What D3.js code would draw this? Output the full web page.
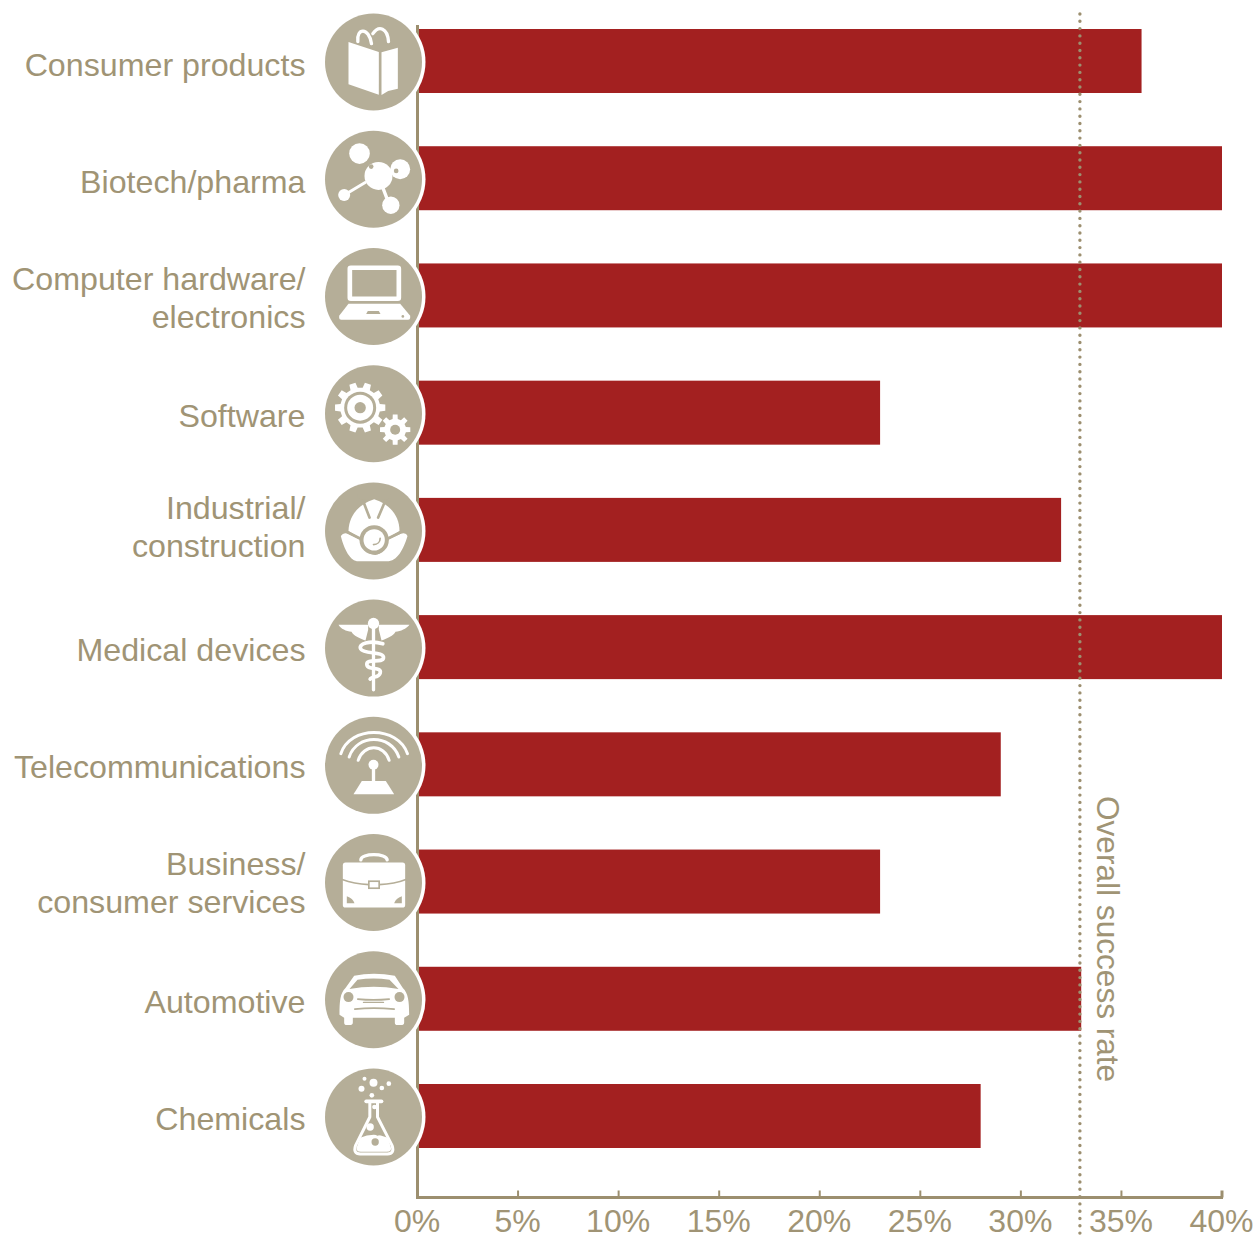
<!DOCTYPE html>
<html>
<head>
<meta charset="utf-8">
<script src="https://cdn.jsdelivr.net/npm/d3@7/dist/d3.min.js"></script>
<style>
  html, body { margin: 0; padding: 0; background: #fff; }
  svg { display: block; }
  text { font-family: "Liberation Sans", Arial, sans-serif; font-size: 32.2px; fill: #a09475; }
</style>
</head>
<body>
<svg id="chart" width="1256" height="1236"></svg>
<script>
// Success rate by industry
const categories = [
  ["Consumer products"],
  ["Biotech/pharma"],
  ["Computer hardware/", "electronics"],
  ["Software"],
  ["Industrial/", "construction"],
  ["Medical devices"],
  ["Telecommunications"],
  ["Business/", "consumer services"],
  ["Automotive"],
  ["Chemicals"]
];
const successRates = [36, 40, 40, 23, 32, 40, 29, 23, 33, 28];
const overallRate = 33;
const overallLabel = "Overall success rate";
const tickValues = [0, 5, 10, 15, 20, 25, 30, 35, 40];
const iconNames = ["book", "molecule", "laptop", "gears", "helmet", "caduceus", "antenna", "briefcase", "car", "flask"];

const RED = "#a32020", TAN = "#9c8f6f", DISC = "#b5ae98", WHITE = "#fff";

const svg = d3.select("#chart");
const x = d3.scaleLinear().domain([0, 40]).range([417.5, 1222]);
const y = d3.scaleBand().domain(d3.range(categories.length)).range([29, 1148]).paddingInner(0.454).paddingOuter(0);
const axisY = 1197.5;

// Bars
svg.append("g").selectAll("rect").data(successRates).join("rect")
  .attr("x", x(0))
  .attr("y", (d, i) => y(i))
  .attr("width", d => x(d) - x(0))
  .attr("height", y.bandwidth())
  .attr("fill", RED);

// Axis with inward ticks
const axis = svg.append("g").attr("transform", `translate(0,${axisY})`)
  .call(d3.axisBottom(x).tickValues(tickValues).tickFormat(d => d + "%").tickSize(-7).tickPadding(0).offset(0));
axis.select(".domain").attr("stroke", TAN).attr("stroke-width", 3).attr("d", `M${x(0)},0H${x(40) + 1}`);
axis.selectAll(".tick line").attr("stroke", TAN).attr("stroke-width", d => d === 40 ? 3 : 2);
axis.selectAll(".tick text").attr("x", -0.5).attr("y", 34.5).attr("dy", 0).style("font-size", "32px");
axis.attr("font-size", null).attr("font-family", null);

svg.append("line").attr("x1", x(0)).attr("x2", x(0)).attr("y1", 25).attr("y2", axisY + 1.5)
  .attr("stroke", TAN).attr("stroke-width", 3);

// Overall rate reference
const overallX = x(overallRate) - 1.3;
svg.append("line").attr("x1", overallX).attr("x2", overallX).attr("y1", 14).attr("y2", 1236)
  .attr("stroke", TAN).attr("stroke-width", 3.4).attr("stroke-linecap", "round").attr("stroke-dasharray", "0 7.3");
svg.append("text").attr("transform", `translate(${overallX + 17.5},796) rotate(90)`)
  .style("font-size", "31.6px").text(overallLabel);

// Category labels, with small per-row baseline corrections
const labelShift = [0, 0, 1, -1, -5, -1, -1, -1, -1, -1];
const labels = svg.append("g").selectAll("text").data(categories).join("text")
  .attr("text-anchor", "end")
  .attr("y", (d, i) => y(i) + y.bandwidth() / 2 + (d.length > 1 ? 13 : 15) + labelShift[i]);
labels.selectAll("tspan").data(d => d).join("tspan")
  .attr("x", 305.5)
  .attr("dy", (d, i, n) => n.length > 1 ? (i === 0 ? -19 : 38) : 0)
  .text(d => d);

// Pictogram helpers: shapes are written on a 3x grid around each disc's centre
const circle = (g, cx, cy, r, fill = WHITE) => g.append("circle").attr("cx", cx).attr("cy", cy).attr("r", r).attr("fill", fill);
const fillPath = (g, d, fill = WHITE) => g.append("path").attr("d", d).attr("fill", fill);
const strokePath = (g, d, w, stroke = WHITE) => g.append("path").attr("d", d).attr("fill", "none").attr("stroke", stroke)
  .attr("stroke-width", w).attr("stroke-linecap", "round").attr("stroke-linejoin", "round");

function gear(g, cx, cy, rOuter, rInner, teeth) {
  const pts = [];
  const step = 2 * Math.PI / teeth;
  for (let i = 0; i < teeth; i++) {
    const a = i * step;
    [[-0.3, rInner], [-0.2, rOuter], [0.2, rOuter], [0.3, rInner]].forEach(([k, r]) => {
      pts.push([cx + r * Math.cos(a + k * step), cy + r * Math.sin(a + k * step)]);
    });
  }
  fillPath(g, d3.line()(pts) + "Z");
}

const icons = {
  book: { at: [160, 185], draw(g) {
    fillPath(g, "M85,125L176,155V283L85,252Z");
    fillPath(g, "M184,156L233,142V265L204,272L184,284Z");
    strokePath(g, "M113,124C108,82 146,80 154,130", 10);
    strokePath(g, "M158,100C176,74 202,82 205,124", 10);
  }},
  molecule: { at: [160, 535], draw(g) {
    strokePath(g, "M85,575L135,545", 9);
    strokePath(g, "M188,560L205,605", 10);
    circle(g, 118, 458, 31);
    circle(g, 175, 525, 42);
    circle(g, 240, 505, 30);
    circle(g, 72, 582, 18);
    circle(g, 212, 613, 26);
    circle(g, 153, 497, 7, DISC);
    circle(g, 228, 510, 7, DISC);
  }},
  laptop: { at: [160, 168], draw(g) {
    g.append("rect").attr("x", 89).attr("y", 82).attr("width", 147).attr("height", 93).attr("rx", 3)
      .attr("fill", "none").attr("stroke", WHITE).attr("stroke-width", 14);
    fillPath(g, "M85,190H240L270,226V233Q270,238 264,238H63Q57,238 57,233V226Z");
    fillPath(g, "M143,212H176L181,221H138Z", DISC);
    circle(g, 248, 228, 4, DISC);
  }},
  gears: { at: [160, 520], draw(g) {
    gear(g, 120, 502, 76, 60, 10);
    circle(g, 120, 502, 48, DISC);
    circle(g, 120, 502, 39);
    circle(g, 120, 502, 17, DISC);
    gear(g, 225, 568, 46, 33, 8);
    circle(g, 225, 568, 15, DISC);
  }},
  helmet: { at: [160, 150], draw(g) {
    fillPath(g, "M85,150C86,108 112,70 162,55C212,70 238,108 238,150L205,170H118Z");
    strokePath(g, "M128,58L148,110", 8, DISC);
    strokePath(g, "M196,58L174,110", 8, DISC);
    fillPath(g, "M112,40H212V53L182,57Q162,50 140,57L112,53Z", DISC);
    fillPath(g, "M62,165Q70,153 84,159L118,176C125,205 145,222 165,222C185,222 200,200 205,176L240,159Q258,153 262,165C250,205 232,241 200,241H115C90,241 72,205 62,165Z");
    strokePath(g, "M84,155L118,172", 8, DISC);
    strokePath(g, "M240,155L205,172", 8, DISC);
    circle(g, 162, 177, 44, DISC);
    circle(g, 162, 177, 32);
    strokePath(g, "M160,191C172,191 180,183 180,172", 5, DISC);
  }},
  caduceus: { at: [160, 503], draw(g) {
    fillPath(g, "M55,433H144V448L136,480C118,474 100,466 94,454C78,452 62,446 55,433Z");
    fillPath(g, "M268,433H176V448L184,480C202,474 220,466 226,454C242,452 258,446 268,433Z");
    strokePath(g, "M160,445V628", 18, DISC);
    circle(g, 160, 429, 17);
    strokePath(g, "M160,445V628", 10);
    strokePath(g, "M188,490C150,478 112,490 122,506C132,522 192,512 190,532C188,550 138,532 140,552C142,572 186,556 180,578C175,594 155,586 150,596", 11);
  }},
  antenna: { at: [160, 165], draw(g) {
    strokePath(g, "M62,130C90,45 232,45 262,130", 9);
    strokePath(g, "M87,140C110,70 212,70 236,140", 9);
    strokePath(g, "M114,150C130,100 192,100 207,150", 9);
    circle(g, 160, 163, 15);
    strokePath(g, "M160,170V215", 10);
    fillPath(g, "M125,212H197L222,252H100Z");
  }},
  briefcase: { at: [160, 515], draw(g) {
    strokePath(g, "M122,447C122,426 200,426 201,447", 10);
    g.append("rect").attr("x", 68).attr("y", 455).attr("width", 187).attr("height", 135).attr("rx", 8).attr("fill", WHITE);
    strokePath(g, "M66,506C90,515 120,520 146,521", 5, DISC);
    strokePath(g, "M177,521C205,520 235,515 257,506", 5, DISC);
    g.append("rect").attr("x", 146).attr("y", 511).attr("width", 31).attr("height", 21).attr("fill", WHITE)
      .attr("stroke", DISC).attr("stroke-width", 5);
    fillPath(g, "M80,556C92,560 100,568 103,577H80Z", DISC);
    fillPath(g, "M245,556C233,560 225,568 222,577H245Z", DISC);
  }},
  car: { at: [160, 160], draw(g) {
    fillPath(g, "M102,88Q160,76 224,88L248,125C264,140 267,165 267,205L252,214V228Q252,236 242,236H232Q224,236 224,228V214H98V228Q98,236 88,236H80Q72,236 72,228V214L58,205C58,165 60,140 76,125Z");
    fillPath(g, "M88,128L112,100Q160,92 208,100L235,128Q160,114 88,128Z", DISC);
    circle(g, 85, 152, 15, DISC);
    circle(g, 238, 152, 15, DISC);
    strokePath(g, "M113,158Q160,163 207,158", 5, DISC);
    strokePath(g, "M130,168H190", 4, DISC);
    strokePath(g, "M104,188Q160,182 222,188", 5, DISC);
  }},
  flask: { at: [160, 510], draw(g) {
    strokePath(g, "M138,463H184", 11);
    strokePath(g, "M149,466V510L106,596Q98,620 120,621H202Q224,620 216,596L172,510V466", 9);
    fillPath(g, "M120,572Q160,555 203,572L212,600Q216,614 200,614H122Q106,614 110,600Z");
    [[133, 395, 6], [160, 407, 12], [206, 410, 7], [124, 425, 9], [185, 423, 7], [155, 445, 7], [163, 480, 7], [150, 540, 11]]
      .forEach(([a, b, r]) => circle(g, a, b, r));
    circle(g, 165, 585, 11, DISC);
    circle(g, 172, 561, 5, DISC);
  }}
};

// Discs with a white halo that bites into the bars
const discs = svg.append("g").selectAll("g").data(iconNames).join("g")
  .attr("transform", (d, i) => `translate(373.5,${y(i) + y.bandwidth() / 2 + 1})`);
discs.append("circle").attr("r", 52).attr("fill", WHITE);
discs.append("circle").attr("r", 48.5).attr("fill", DISC);
discs.each(function (name) {
  const icon = icons[name];
  const g = d3.select(this).append("g")
    .attr("transform", `scale(${1 / 3}) translate(${-icon.at[0]},${-icon.at[1]})`);
  icon.draw(g);
});
</script>
</body>
</html>
